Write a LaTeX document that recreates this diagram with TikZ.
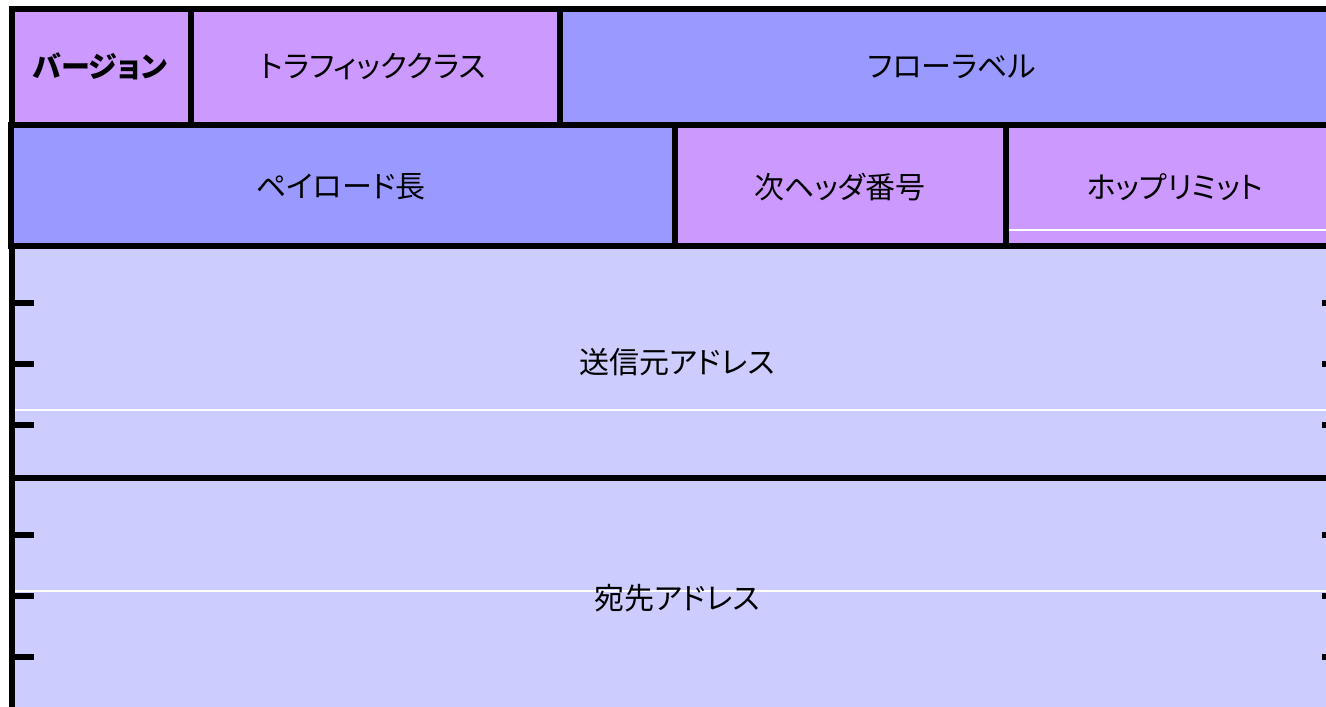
\documentclass[tikz,border=0pt]{standalone}
\usepackage{fontspec}
\newfontfamily\jp[RawFeature=+palt]{Noto Sans CJK JP}
\definecolor{hpurple}{HTML}{CC99FF}
\definecolor{hblue}{HTML}{9999FF}
\definecolor{hlight}{HTML}{CCCCFF}
\tikzset{
  field/.style={draw=black, line width=6pt},
  lbl/.style={font=\jp\fontsize{30}{34}\selectfont, text=black, inner sep=0pt},
  sep/.style={draw=white, line width=1.2pt},
  tick/.style={draw=black, line width=6pt},
}
\begin{document}
\begin{tikzpicture}[x=1pt,y=-1pt]
\useasboundingbox (0,0) rectangle (1326,707);
\clip (0,0) rectangle (1326,707);
\fill[white] (0,0) rectangle (1326,707);
% row 1
\path[field, fill=hpurple] (11.5,8.5) rectangle (190.5,124.5);
\path[field, fill=hpurple] (190.5,8.5) rectangle (560,124.5);
\path[field, fill=hblue] (560,8.5) rectangle (1344,124.5);
% row 2
\path[field, fill=hblue] (11,124.5) rectangle (674.5,245.5);
\path[field, fill=hpurple] (674.5,124.5) rectangle (1006,245.5);
\path[field, fill=hpurple] (1006,124.5) rectangle (1344,245.5);
% addresses
\path[field, fill=hlight] (12,245.5) rectangle (1344,477.5);
\path[field, fill=hlight] (12,477.5) rectangle (1344,730);
% thin white lines
\coordinate (w1a) at (1009,230); \coordinate (w1b) at (1344,230);
\coordinate (w2a) at (15,410);   \coordinate (w2b) at (1344,410);
\coordinate (w3a) at (15,591);   \coordinate (w3b) at (1344,591);
\draw[sep] (w1a) -- (w1b);
\draw[sep] (w2a) -- (w2b);
\draw[sep] (w3a) -- (w3b);
% ticks
\foreach \yy in {303,364,425,535,596,657}{
  \draw[tick] (12,\yy) -- (34,\yy);
  \draw[tick] (1322,\yy) -- (1344,\yy);
}
% labels
\node[lbl, font=\jp\bfseries\fontsize{29}{34}\selectfont] (ver) at (100,66.5) {バージョン};
\node[lbl] (tc) at (373,66.5) {トラフィッククラス};
\node[lbl] (fl) at (952,66.5) {フローラベル};
\node[lbl] (pl) at (341,187) {ペイロード長};
\node[lbl] (nh) at (840,187) {次ヘッダ番号};
\node[lbl] (hl) at (1175,187) {ホップリミット};
\node[lbl] (src) at (677,362) {送信元アドレス};
\node[lbl] (dst) at (677,598) {宛先アドレス};
\end{tikzpicture}
\end{document}
